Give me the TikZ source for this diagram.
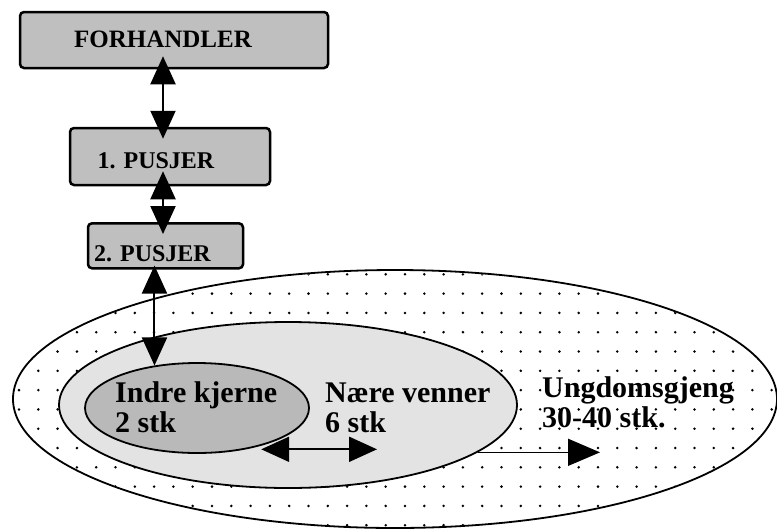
\documentclass[tikz,border=0pt]{standalone}
\usepackage{fontspec}
\setmainfont{Liberation Serif}
\usetikzlibrary{shapes.geometric,arrows.meta}
\begin{document}
\begin{tikzpicture}[x=1pt,y=-1pt,
  boxstyle/.style={draw, line width=2.5pt, rounded corners=4pt, fill=gray!50, inner sep=0pt},
  boxfont/.style={font=\fontsize{24}{24}\selectfont\bfseries},
  ringstyle/.style={ellipse, draw, line width=1.8pt, inner sep=0pt},
  lbl/.style={align=left, inner sep=0pt, font=\fontsize{30}{30}\selectfont\bfseries},
  dbl/.style={line width=2pt, {Triangle[length=28pt,width=25pt]}-{Triangle[length=28pt,width=25pt]}},
  one/.style={line width=1.5pt, -{Triangle[length=32pt,width=27pt]}}]
\useasboundingbox (0,0) rectangle (777,531);

% rings
\node[ringstyle, fill=white, minimum width=764pt, minimum height=258pt] (O) at (395,399) {};
\begin{scope}[even odd rule]
  \clip (395,399) ellipse [x radius=381, y radius=128]
        (288,405) ellipse [x radius=229, y radius=83];
  \foreach \i in {0,...,41}{
    \foreach \j in {0,...,14}{
      \fill (\i*19.3-0.3, \j*19.3+255) circle (1.4pt);
    }
  }
\end{scope}
\node[ringstyle, fill=gray!22, minimum width=458pt, minimum height=166pt] (M) at (288,405) {};
\node[ringstyle, fill=gray!55, minimum width=224pt, minimum height=90pt] (I) at (197,408) {};

% boxes
\node[boxstyle, font=\fontsize{25}{25}\selectfont\bfseries, minimum width=308pt, minimum height=56pt, text height=16pt, text depth=2pt] (F) at (174,40) {FORHANDLER\hspace*{22pt}};
\node[boxstyle, boxfont, minimum width=200pt, minimum height=57pt, text height=23pt, text depth=0pt] (P1) at (170,156.5) {1. PUSJER\hspace*{28pt}};
\node[boxstyle, boxfont, minimum width=155pt, minimum height=45pt, text height=32pt, text depth=0pt] (P2) at (165.5,245.8) {2. PUSJER\hspace*{26pt}};

% labels (base anchor = baseline of the last line)
\node[lbl, anchor=base west] (t1) at (115,432) {Indre kjerne\\2 stk};
\node[lbl, anchor=base west] (t2) at (325,432) {Nære venner\\6 stk};
\node[lbl, anchor=base west] (t3) at (542,427) {Ungdomsgjeng\\30-40 stk.};

% connectors
\coordinate (ax1) at (163,0);
\coordinate (h1) at (377,449);
\coordinate (h2) at (600,452);
\draw[dbl, shorten <=-13pt, shorten >=-12pt] (F.south -| ax1) -- (P1.north -| ax1);
\draw[dbl, shorten <=-15pt, shorten >=-12pt] (P1.south -| ax1) -- (P2.north -| ax1);
\draw[dbl, shorten <=-4pt] (P2.south -| I.135) -- (I.135);
\draw[dbl, shorten <=15pt] (I.-40) -- (I.-40 -| h1);
\draw[one] (M.-14) -- (M.-14 -| h2);
\end{tikzpicture}
\end{document}
